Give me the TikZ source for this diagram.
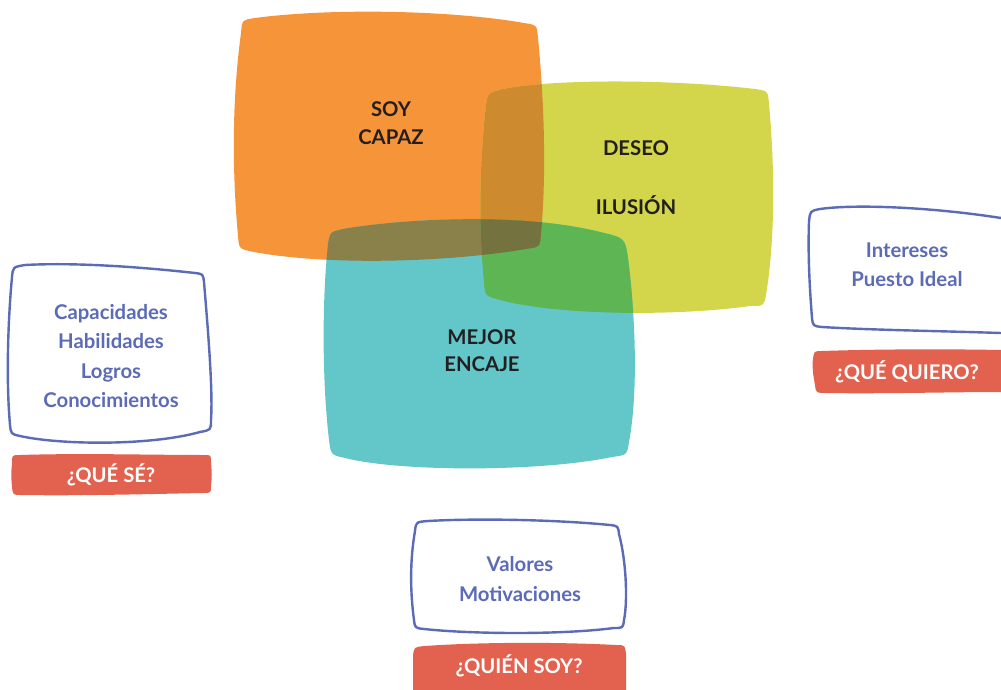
\documentclass[tikz,border=0pt]{standalone}
\usepackage{fontspec}
\setmainfont{Lato}
\definecolor{cOrange}{HTML}{F6943A}
\definecolor{cYellow}{HTML}{D3D64B}
\definecolor{cTeal}{HTML}{63C7CA}
\definecolor{cOY}{HTML}{CE8A2E}
\definecolor{cOT}{HTML}{8A8049}
\definecolor{cYT}{HTML}{5EB554}
\definecolor{cOYT}{HTML}{747340}
\definecolor{cBlue}{HTML}{5B6BB5}
\definecolor{cRed}{HTML}{E3624F}
\definecolor{cDark}{HTML}{231F20}
\tikzset{
  orangeblob/.style={insert path={(255,18) .. controls (330,8) and (450,10) .. (524,23) .. controls (537,25) .. (538,38) .. controls (545,110) and (546,180) .. (541,234) .. controls (540,247) .. (526,249) .. controls (450,262) and (330,266) .. (254,252) .. controls (239,249) .. (238,236) .. controls (232,170) and (232,100) .. (241,33) .. controls (242,20) .. (255,18) -- cycle}},
  yellowblob/.style={insert path={(503,89) .. controls (560,78) and (680,80) .. (755,89) .. controls (768,91) .. (769,104) .. controls (775,170) and (775,240) .. (766,295) .. controls (764,306) .. (750,306) .. controls (680,316) and (560,316) .. (500,300) .. controls (485,296) .. (484,282) .. controls (478,220) and (480,160) .. (486,105) .. controls (488,93) .. (503,89) -- cycle}},
  tealblob/.style={insert path={(343,229) .. controls (400,219) and (520,212) .. (600,232) .. controls (625,238) .. (628,258) .. controls (637,330) and (637,400) .. (629,442) .. controls (627,455) .. (612,457) .. controls (540,472) and (400,472) .. (345,458) .. controls (331,455) .. (329,440) .. controls (322,380) and (322,300) .. (328,244) .. controls (330,232) .. (343,229) -- cycle}},
  outlinebox/.style={draw=cBlue, line width=2.4pt, line join=round, fill=white},
  labelbox/.style={fill=cRed},
  bigtxt/.style={font=\fontsize{20.3}{27.5}\selectfont\bfseries, text=cDark, align=center, inner sep=0pt},
  bluetxt/.style={font=\fontsize{20.3}{29.5}\selectfont\bfseries, text=cBlue, align=center, inner sep=0pt},
  labtxt/.style={font=\fontsize{20.2}{24}\selectfont\bfseries, text=white, inner sep=0pt, text height=14.5pt, text depth=0pt},
}
\begin{document}
\begin{tikzpicture}[x=1pt,y=-1pt]
\clip (0,0) rectangle (1001,690);
\fill[white] (0,0) rectangle (1001,690);
% blobs
\fill[cOrange, orangeblob];
\fill[cYellow, yellowblob];
\fill[cTeal, tealblob];
\begin{scope}\clip[orangeblob]; \fill[cOY, yellowblob];\end{scope}
\begin{scope}\clip[orangeblob]; \fill[cOT, tealblob];\end{scope}
\begin{scope}\clip[yellowblob]; \fill[cYT, tealblob];\end{scope}
\begin{scope}\clip[orangeblob]; \clip[yellowblob]; \fill[cOYT, tealblob];\end{scope}
\node[bigtxt] (capaz) at (391,123) {SOY\\CAPAZ};
\node[bigtxt] (deseo) at (636,148) {DESEO};
\node[bigtxt] (ilusion) at (636,205) {ILUSIÓN};
\node[bigtxt] (encaje) at (482,350.5) {MEJOR\\ENCAJE};
% left box
\path[outlinebox] (25,265) .. controls (80,262) and (150,268) .. (195,273) .. controls (203,274) .. (204,282) .. controls (208,330) and (213,390) .. (211,420) .. controls (211,430) .. (200,432) .. controls (150,446) and (60,445) .. (20,436) .. controls (11,434) .. (10,425) .. controls (6,380) and (8,320) .. (12,277) .. controls (13,267) .. (25,265) -- cycle;
\node[bluetxt] (sabe) at (111,356) {Capacidades\\Habilidades\\Logros\\Conocimientos};
\path[labelbox] (20,455) .. controls (80,453) and (150,455) .. (204,455) .. controls (211,455) .. (211,462) .. controls (212,475) .. (211,486) .. controls (211,493) .. (203,493) .. controls (150,494) and (80,496) .. (21,495) .. controls (13,495) .. (12,487) .. controls (11,475) .. (12,463) .. controls (12,455) .. (20,455) -- cycle;
\node[labtxt] (quese) at (111,475.5) {¿QUÉ SÉ?};
% right box
\path[outlinebox] (820,209) .. controls (855,204) and (930,207) .. (1001,218) -- (1030,222) -- (1030,335) -- (1001,333) .. controls (940,331) and (870,330) .. (822,327) .. controls (813,326) .. (812,318) .. controls (809,280) and (808,250) .. (809,222) .. controls (810,211) .. (820,209) -- cycle;
\node[bluetxt] (quiere) at (907,264.5) {Intereses\\Puesto Ideal};
\path[labelbox] (822,351) .. controls (880,349) and (950,349) .. (1001,350) -- (1030,350) -- (1030,392) -- (1001,392) .. controls (950,392) and (880,394) .. (826,393) .. controls (816,393) .. (815,385) .. controls (813,375) and (812,365) .. (813,359) .. controls (814,351) .. (822,351) -- cycle;
\node[labtxt] (quequiero) at (907,372) {¿QUÉ QUIERO?};
% bottom box
\path[outlinebox] (428,521) .. controls (480,518) and (560,520) .. (610,525) .. controls (618,526) .. (619,534) .. controls (626,560) and (628,600) .. (624,620) .. controls (623,628) .. (614,628) .. controls (560,635) and (470,634) .. (424,629) .. controls (415,628) .. (414,620) .. controls (410,590) and (410,560) .. (415,531) .. controls (416,522) .. (428,521) -- cycle;
\node[bluetxt] (soy) at (520,579) {Valores\\Motivaciones};
\path[labelbox] (425,646) .. controls (480,642) and (560,642) .. (616,645) .. controls (625,645) .. (626,654) -- (626,700) -- (413,700) -- (413,656) .. controls (414,647) .. (425,646) -- cycle;
\node[labtxt] (quien) at (519,666) {¿QUIÉN SOY?};
\end{tikzpicture}
\end{document}
